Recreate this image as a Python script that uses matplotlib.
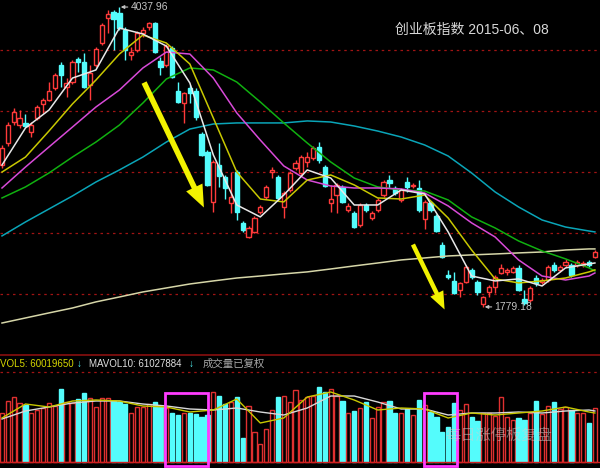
import numpy as np
import matplotlib.pyplot as plt
from matplotlib.patches import Rectangle, FancyArrowPatch

plt.rcParams['font.family'] = ['Liberation Sans', 'Noto Sans CJK SC', 'DejaVu Sans']

# daily candles, ChiNext index 2015
opens = [2848, 3014, 3172, 3149, 3165, 3097, 3202, 3308, 3338, 3428,
         3601, 3436, 3473, 3646, 3624, 3451, 3601, 3767, 3955, 4000,
         3993, 3865, 3677, 3714, 3842, 3887, 3917, 3631, 3601, 3729,
         3406, 3315, 3428, 3406, 3082, 2946, 2570, 2848, 2758, 2562,
         2795, 2412, 2306, 2344, 2494, 2607, 2795, 2758, 2532, 2660,
         2826, 2788, 2871, 2901, 2984, 2833, 2562, 2622, 2683, 2509,
         2487, 2396, 2547, 2449, 2509, 2622, 2735, 2675, 2585, 2720,
         2690, 2675, 2442, 2562, 2464, 2246, 2020, 1975, 1907, 1967,
         2058, 1967, 1802, 1892, 1930, 2035, 2043, 2043, 2073, 1839,
         1832, 1997, 1967, 1982, 2095, 2058, 2095, 2095, 2095, 2095,
         2118, 2156]
highs = [2999, 3172, 3278, 3262, 3232, 3172, 3300, 3353, 3473, 3541,
         3624, 3503, 3639, 3661, 3692, 3601, 3737, 3917, 4015, 4015,
         4037.96, 3887, 3737, 3857, 3887, 3925, 3925, 3661, 3759, 3744,
         3473, 3398, 3451, 3428, 3097, 2961, 2886, 3014, 2773, 2795,
         2811, 2427, 2389, 2464, 2547, 2698, 2833, 2773, 2652, 2803,
         2886, 2924, 2946, 2991, 3021, 2848, 2698, 2713, 2698, 2562,
         2502, 2562, 2562, 2502, 2600, 2735, 2773, 2690, 2675, 2758,
         2713, 2735, 2585, 2577, 2479, 2268, 2058, 2043, 1967, 2095,
         2073, 1982, 1862, 1945, 2020, 2103, 2073, 2088, 2095, 1907,
         1937, 2020, 1997, 2095, 2118, 2095, 2141, 2110, 2133, 2125,
         2133, 2208]
lows = [2826, 2991, 3149, 3127, 3134, 3059, 3187, 3240, 3330, 3413,
        3436, 3360, 3458, 3549, 3428, 3338, 3586, 3752, 3842, 3714,
        3865, 3639, 3639, 3699, 3812, 3865, 3692, 3526, 3586, 3503,
        3315, 3165, 3315, 3187, 2916, 2690, 2494, 2683, 2592, 2487,
        2434, 2344, 2299, 2336, 2479, 2592, 2750, 2585, 2449, 2645,
        2811, 2773, 2833, 2886, 2863, 2683, 2494, 2487, 2562, 2494,
        2374, 2381, 2494, 2434, 2494, 2607, 2675, 2622, 2570, 2645,
        2675, 2494, 2366, 2494, 2344, 2148, 1990, 1877, 1854, 1960,
        1990, 1869, 1779.18, 1854, 1884, 2028, 2020, 2035, 1900, 1794,
        1817, 1937, 1952, 1967, 2043, 2043, 2080, 2005, 2080, 2080,
        2080, 2148]
closes = [2976, 3149, 3247, 3202, 3142, 3149, 3285, 3338, 3406, 3526,
          3526, 3466, 3624, 3624, 3436, 3541, 3722, 3902, 3985, 3948,
          3880, 3714, 3699, 3842, 3865, 3917, 3699, 3586, 3744, 3511,
          3323, 3390, 3390, 3210, 2924, 2698, 2871, 2765, 2675, 2607,
          2494, 2359, 2374, 2449, 2532, 2683, 2811, 2600, 2637, 2788,
          2863, 2908, 2908, 2976, 2886, 2690, 2592, 2698, 2570, 2540,
          2381, 2547, 2509, 2487, 2585, 2720, 2713, 2637, 2660, 2683,
          2698, 2509, 2570, 2509, 2351, 2156, 2005, 1884, 1960, 2080,
          2005, 1892, 1854, 1930, 2005, 2073, 2058, 2073, 1907, 1809,
          1922, 1960, 1982, 2080, 2058, 2080, 2118, 2020, 2118, 2110,
          2095, 2193]
# volume, millions
vols = [54, 67, 72, 65, 63, 54, 57, 59, 65, 62,
        80, 66, 65, 69, 76, 70, 61, 70, 70, 67,
        66, 64, 54, 61, 61, 64, 66, 61, 59, 54,
        52, 54, 54, 53, 50, 52, 77, 73, 64, 66,
        72, 26, 62, 33, 20, 36, 57, 72, 73, 66,
        79, 68, 72, 73, 83, 77, 80, 73, 67, 54,
        56, 59, 66, 48, 61, 66, 67, 54, 54, 58,
        52, 68, 63, 55, 50, 33, 39, 65, 57, 64,
        50, 45, 54, 54, 51, 72, 50, 46, 48, 46,
        54, 67, 53, 62, 66, 58, 61, 57, 54, 54,
        43, 59]

# moving averages every 4th day
ma_idx = [0, 4, 8, 12, 16, 20, 24, 28, 32, 36, 40, 44, 48, 52,
          56, 60, 64, 68, 72, 76, 80, 84, 88, 92, 96, 100, 101]
ma5 = [2848, 3127, 3262, 3503, 3564, 3880, 3835, 3744, 3466, 2924, 2547, 2457, 2622, 2811,
       2750, 2547, 2547, 2660, 2630, 2344, 2012, 1975, 1990, 1937, 2073, 2103, 2110]
ma10 = [2795, 2908, 3104, 3308, 3488, 3684, 3827, 3767, 3609, 3202, 2795, 2592, 2570, 2735,
        2773, 2698, 2600, 2592, 2622, 2449, 2208, 1990, 1960, 1975, 1997, 2043, 2058]
ma20 = [2675, 2833, 2984, 3134, 3285, 3413, 3579, 3699, 3684, 3503, 3240, 3036, 2841, 2735,
        2690, 2675, 2675, 2668, 2637, 2540, 2412, 2306, 2133, 2012, 1982, 2012, 2035]
ma30 = [2600, 2683, 2788, 2908, 3021, 3149, 3315, 3496, 3579, 3564, 3473, 3323, 3165, 3014,
        2871, 2750, 2683, 2660, 2652, 2585, 2457, 2374, 2276, 2201, 2141, 2073, 2050]
ma60 = [2314, 2419, 2517, 2615, 2720, 2811, 2908, 3021, 3119, 3157, 3165, 3165, 3165, 3180,
        3172, 3142, 3104, 3059, 2999, 2916, 2788, 2645, 2532, 2434, 2381, 2351, 2344]
ma250 = [1658, 1696, 1734, 1771, 1817, 1854, 1892, 1922, 1952, 1975, 1997, 2012, 2028, 2043,
         2065, 2088, 2110, 2133, 2148, 2163, 2171, 2178, 2186, 2193, 2208, 2216, 2216]
mavol5 = [48.4, 63.8, 60.5, 67.1, 68.2, 67.1, 61.6, 60.5, 55.0, 57.2, 69.3, 42.9, 48.4, 71.5,
          77.0, 68.2, 57.2, 59.4, 58.3, 48.4, 53.9, 51.7, 53.9, 56.1, 60.5, 55.0, 53.9]
mavol10 = [47.3, 56.1, 60.5, 64.9, 67.1, 67.1, 63.8, 61.6, 58.3, 57.2, 59.4, 55.0, 51.7, 59.4,
           72.6, 72.6, 66.0, 58.3, 58.3, 51.7, 53.9, 53.9, 55.0, 53.9, 56.1, 57.2, 56.1]

grid_prices = [3714, 3255, 2796, 2336, 1877]
arrows = [((24.0, 3488), (34.6, 2509), 1.0), ((69.8, 2268), (75.6, 1741), 0.8)]
boxes = [(27.8, 35.1), (71.9, 77.5)]
box_top = 76

title = '创业板指数 2015-06、08'

opens = np.array(opens, float)
highs = np.array(highs, float)
lows = np.array(lows, float)
closes = np.array(closes, float)
idx = np.arange(len(opens))
up = closes >= opens

red = '#ff3a3a'
cyan = '#54fcfc'

fig = plt.figure(figsize=(6, 4.68), dpi=100, facecolor='black')
ax = fig.add_axes([0, 113 / 468, 1, 355 / 468])
axv = fig.add_axes([0, 0, 1, 113 / 468])
for a in (ax, axv):
    a.set_facecolor('black')
    a.set_xticks([])
    a.set_yticks([])
    for s in a.spines.values():
        s.set_visible(False)
    a.set_xlim(-0.34, 101.87)
ax.set_ylim(1417, 4091)
axv.set_ylim(-6.6, 117.7)
axv.spines['top'].set_visible(True)
axv.spines['top'].set_color('#8a0f0f')
axv.spines['top'].set_linewidth(1.2)

for g in grid_prices:
    ax.axhline(g, color='#a01414', lw=0.9, ls=(0, (2, 3)), zorder=1)

# candles
ax.vlines(idx, lows, highs, colors=np.where(up, red, cyan), lw=1, zorder=2)
bodies = np.maximum(np.abs(closes - opens), 1)
ax.bar(idx, bodies, bottom=np.minimum(opens, closes), width=0.72,
       color=np.where(up, 'black', cyan), edgecolor=np.where(up, red, cyan),
       lw=1, zorder=3)

ax.plot(ma_idx, ma250, color='#d6d6a8', lw=1.1, zorder=4)
ax.plot(ma_idx, ma60, color='#0aa5b8', lw=1.1, zorder=4)
ax.plot(ma_idx, ma30, color='#10b010', lw=1.1, zorder=4)
ax.plot(ma_idx, ma20, color='#d84ad8', lw=1.1, zorder=4)
ax.plot(ma_idx, ma10, color='#c8c800', lw=1.1, zorder=4)
ax.plot(ma_idx, ma5, color='#e8e8e8', lw=1.1, zorder=4)

hi = int(np.argmax(highs))
lo = int(np.argmin(lows))
for i, val in ((hi, highs[hi]), (lo, lows[lo])):
    ax.annotate(f'{val:.2f}', xy=(i, val), xytext=(8, 0), textcoords='offset points',
                ha='left', va='center', color='#c4c4c4', fontsize=7.5,
                arrowprops=dict(arrowstyle='-|>', color='#c4c4c4', lw=0.8,
                                mutation_scale=5, shrinkA=0, shrinkB=1),
                zorder=6)

for tail, tip, sz in arrows:
    ax.add_patch(FancyArrowPatch(tail, tip, mutation_scale=10 * sz,
                                 arrowstyle='simple,head_length=1.6,head_width=1.3,tail_width=0.4',
                                 color='#f2f200', lw=0, zorder=5))

fig.text(395 / 600, 1 - 30 / 468, title, color='#d8d8d8', fontsize=10, va='center')

# volume panel
axv.axhline(99, color='#a01414', lw=0.9, ls=(0, (2, 3)), zorder=1)
axv.bar(idx, vols, width=0.72, color=np.where(up, 'black', cyan),
        edgecolor=np.where(up, '#e03030', cyan), lw=1, zorder=2)
axv.axhline(0, color='#d02020', lw=1, zorder=3)
axv.plot(ma_idx, mavol10, color='#d8d8d8', lw=1, zorder=4)
axv.plot(ma_idx, mavol5, color='#c8c800', lw=1, zorder=4)
for x0, x1 in boxes:
    axv.add_patch(Rectangle((x0, -4.4), x1 - x0, box_top + 4.4, fill=False,
                            edgecolor='#ff3cff', lw=2, zorder=5))

ly = 1 - 364 / 468
fig.text(0.0, ly, 'VOL5: 60019650', color='#d8d800', fontsize=7, va='center')
fig.text(77 / 600, ly, '↓', color=cyan, fontsize=7, va='center')
fig.text(89 / 600, ly, 'MAVOL10: 61027884', color='#e0e0e0', fontsize=7, va='center')
fig.text(189 / 600, ly, '↓', color=cyan, fontsize=7, va='center')
fig.text(203 / 600, ly, '成交量已复权', color='#a8a8a8', fontsize=7.5, va='center',
         family=['Noto Sans CJK SC'])

fig.text(445 / 600, 1 - 435 / 468, '每日涨停板复盘', color='#d0d0d0', alpha=0.5,
         fontsize=11, va='center', family=['Noto Sans CJK SC'])

fig.savefig('out.png', dpi=100, facecolor='black')
